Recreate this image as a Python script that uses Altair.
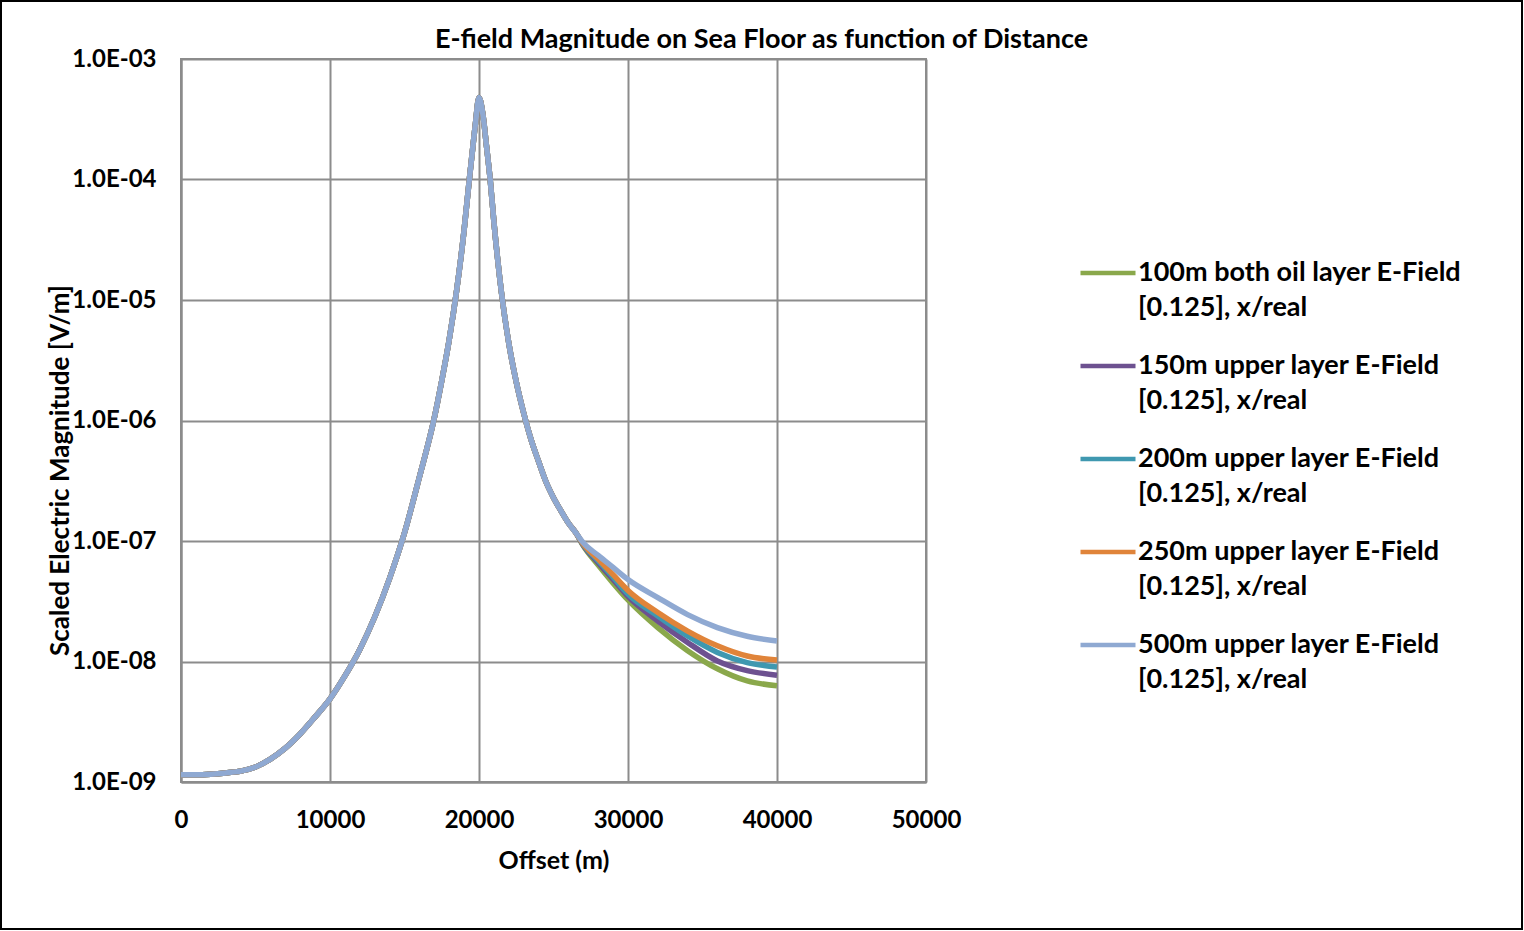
import altair as alt
import pandas as pd

# ---- data ----
series_names = [
    "100m both oil layer E-Field [0.125], x/real",
    "150m upper layer E-Field [0.125], x/real",
    "200m upper layer E-Field [0.125], x/real",
    "250m upper layer E-Field [0.125], x/real",
    "500m upper layer E-Field [0.125], x/real",
]
series_colors = ["#8aa84b", "#6d5190", "#3f98b0", "#e0843a", "#8fa9d2"]

# common part of all curves (they overlap up to ~26.5 km)
shared_offsets = [0, 1000, 2000, 3000, 4000, 5000, 6000, 7000, 8000, 9000,
                  10000, 11000, 12000, 13000, 14000, 15000, 16000, 17000,
                  17500, 18000, 18500, 19000, 19350, 19500, 19750, 20000,
                  20250, 20500, 20750, 21000, 21500, 22000, 22500, 23000,
                  23500, 24000, 24500, 25000, 25500, 26000, 26500]
shared_values = [1.148e-9, 1.148e-9, 1.161e-9, 1.189e-9, 1.23e-9, 1.33e-9,
                 1.55e-9, 1.91e-9, 2.51e-9, 3.47e-9, 4.90e-9, 7.59e-9,
                 1.26e-8, 2.34e-8, 4.90e-8, 1.17e-7, 3.39e-7, 1.05e-6,
                 2.14e-6, 4.68e-6, 1.2e-5, 3.8e-5, 1.0e-4, 1.48e-4, 2.82e-4,
                 4.79e-4, 3.55e-4, 1.91e-4, 1.0e-4, 4.47e-5, 1.17e-5, 4.37e-6,
                 2.09e-6, 1.15e-6, 6.9e-7, 4.57e-7, 3.09e-7, 2.29e-7, 1.78e-7,
                 1.41e-7, 1.17e-7]

# diverging tails
tail_offsets = [27000, 28000, 29000, 30000, 32000, 34000, 36000, 38000, 40000]
tail_100 = [9.12e-8, 6.31e-8, 4.47e-8, 3.24e-8, 1.91e-8, 1.23e-8, 8.7e-9, 6.9e-9, 6.3e-9]
tail_150 = [9.23e-8, 6.61e-8, 4.79e-8, 3.47e-8, 2.17e-8, 1.44e-8, 1.01e-8, 8.4e-9, 7.7e-9]
tail_200 = [9.33e-8, 6.84e-8, 5.01e-8, 3.63e-8, 2.39e-8, 1.63e-8, 1.19e-8, 9.8e-9, 9.0e-9]
tail_250 = [9.44e-8, 7.08e-8, 5.25e-8, 3.89e-8, 2.55e-8, 1.79e-8, 1.35e-8, 1.11e-8, 1.03e-8]
tail_500 = [9.66e-8, 7.59e-8, 6.03e-8, 4.79e-8, 3.39e-8, 2.45e-8, 1.91e-8, 1.62e-8, 1.48e-8]
tails = [tail_100, tail_150, tail_200, tail_250, tail_500]

x_ticks = [0, 10000, 20000, 30000, 40000, 50000]
y_ticks = [1e-9, 1e-8, 1e-7, 1e-6, 1e-5, 1e-4, 1e-3]

rows = []
for name, tail in zip(series_names, tails):
    for x, v in zip(shared_offsets, shared_values):
        rows.append({"series": name, "offset": x, "value": v})
    for x, v in zip(tail_offsets, tail):
        rows.append({"series": name, "offset": x, "value": v})
df = pd.DataFrame(rows)

FONT = "Lato"
GRID = "#8c8c8c"

lines = alt.Chart(df).mark_line(strokeWidth=5.5, interpolate="monotone", clip=True).encode(
    x=alt.X(
        "offset:Q",
        scale=alt.Scale(domain=[0, 50000], nice=False, zero=False),
        axis=alt.Axis(
            values=x_ticks, format="d", title="Offset (m)", ticks=False, labelFlush=False,
            labelPadding=26, labelFontSize=24, labelFont=FONT, labelFontWeight="bold",
            labelColor="black", titleFont=FONT, titleFontSize=25, titleFontWeight="bold",
            titleColor="black", titleY=78, titleBaseline="middle",
            domainColor=GRID, domainWidth=2, gridColor=GRID, gridWidth=2, gridOpacity=1,
        ),
    ),
    y=alt.Y(
        "value:Q",
        scale=alt.Scale(type="log", domain=[1e-9, 1e-3], nice=False),
        axis=alt.Axis(
            values=y_ticks, labelExpr="'1.0E-0' + round(-log(datum.value)/LN10)",
            title="Scaled Electric Magnitude [V/m]", ticks=False, labelPadding=25,
            labelFontSize=24, labelFont=FONT, labelFontWeight="bold", labelColor="black",
            titleFont=FONT, titleFontSize=26, titleFontWeight="bold", titleColor="black",
            titleX=-121, titleY=411, titleBaseline="middle", titleAlign="center", titleAngle=270,
            domainColor=GRID, domainWidth=2, gridColor=GRID, gridWidth=2, gridOpacity=1,
        ),
    ),
    color=alt.Color(
        "series:N",
        scale=alt.Scale(domain=series_names, range=series_colors),
        sort=series_names,
        legend=alt.Legend(
            title=None, orient="none", legendX=897, legendY=184,
            symbolType="stroke", symbolSize=3025, symbolStrokeWidth=4.5,
            labelFont=FONT, labelFontSize=27, labelFontWeight="bold", labelColor="black",
            labelLimit=700, labelOffset=0, labelBaseline="middle", rowPadding=15,
            labelExpr="[slice(datum.label, 0, indexof(datum.label, ' [')), slice(datum.label, indexof(datum.label, ' [') + 1)]",
        ),
    ),
)

border = alt.Chart(pd.DataFrame({"a": [0]})).mark_rect(
    fillOpacity=0, stroke="black", strokeWidth=2, clip=False
).encode(x=alt.value(-180), x2=alt.value(1341), y=alt.value(-58), y2=alt.value(870))

chart = alt.layer(border, lines).properties(
    width=745,
    height=723,
    padding={"left": 181, "top": 59, "right": 598, "bottom": 149},
    autosize=alt.AutoSizeParams(type="none"),
    title=alt.Title(
        "E-field Magnitude on Sea Floor as function of Distance",
        font=FONT, fontSize=27, fontWeight="bold", color="black",
        anchor="middle", dx=208, dy=75, offset=0, baseline="alphabetic",
    ),
).configure(
    background="white", style={"guide-label": {"lineHeight": 35}}
).configure_view(stroke=GRID, strokeWidth=2)

chart.save("out.html", embed_options={"renderer": "svg", "actions": False})
